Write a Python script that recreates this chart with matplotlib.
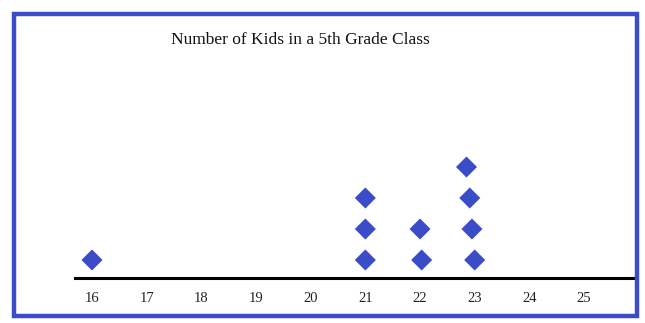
import matplotlib
matplotlib.use("Agg")
import matplotlib.pyplot as plt
from matplotlib.patches import Rectangle

# Dot plot data: class sizes and how many classes had each size
values = [16, 17, 18, 19, 20, 21, 22, 23, 24, 25]
counts = [1, 0, 0, 0, 0, 3, 2, 4, 0, 0]
# small hand-placed sideways drift of each stacked marker (in x units)
drift = {22: [0.03, 0.0], 23: [0.0, -0.05, -0.09, -0.15]}

title = "Number of Kids in a 5th Grade Class"
blue = "#3b4cc9"

W, H = 645, 323
fig = plt.figure(figsize=(W / 100, H / 100), dpi=100)

# axes placed in pixel terms: axis line at y=278, spanning x 75..636
left, right, bottom, top = 75, 636, H - 278, H - 40
ax = fig.add_axes([left / W, bottom / H, (right - left) / W, (top - bottom) / H])

px_per_unit = 54.67
ax.set_xlim(16 - (92 - left) / px_per_unit, 16 + (right - 92) / px_per_unit)
row_px = 31
ax.set_ylim(1 - 18 / row_px, 1 - 18 / row_px + (top - bottom) / row_px)

for v, c in zip(values, counts):
    shifts = drift.get(v, [0.0] * c)
    for k in range(c):
        ax.scatter(v + shifts[k], k + 1, marker="D", s=115, color=blue,
                   edgecolors="none", zorder=3)

for s in ["top", "left", "right"]:
    ax.spines[s].set_visible(False)
ax.spines["bottom"].set_linewidth(2.2)
ax.spines["bottom"].set_color("black")
ax.set_yticks([])
ax.set_xticks(values)
ax.set_xticklabels([str(v) for v in values], family="Liberation Serif",
                   fontsize=10.5, color="#222222")
ax.tick_params(axis="x", length=0, pad=10)

fig.text(300 / W, 1 - 40 / H, title, ha="center", va="center",
         family="Liberation Serif", fontsize=12.5, color="#111111")

# blue frame around the whole chart
fig.patches.append(Rectangle((13.5 / W, 1 - 315.5 / H), (637 - 13.5) / W,
                             (315.5 - 13.5) / H, transform=fig.transFigure,
                             fill=False, edgecolor=blue, linewidth=3.2))

fig.savefig("out.png", dpi=100)
